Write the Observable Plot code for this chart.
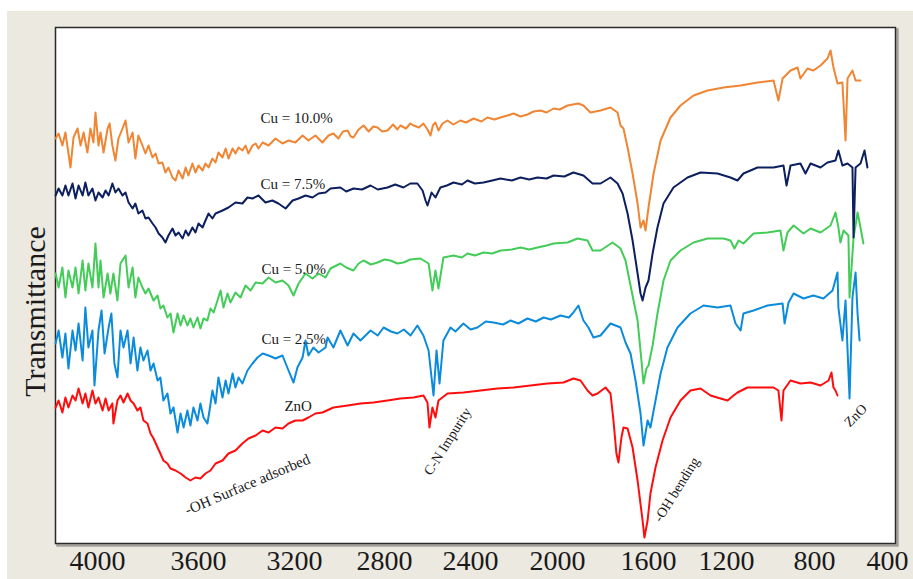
<!DOCTYPE html>
<html><head><meta charset="utf-8">
<script src="https://cdn.jsdelivr.net/npm/d3@7"></script>
<script src="https://cdn.jsdelivr.net/npm/@observablehq/plot@0.6"></script>
<style>
html,body{margin:0;padding:0;background:#fff;}
#wrap{position:relative;width:913px;height:579px;overflow:hidden;background:#fff;}
#bg{position:absolute;left:7px;top:11px;right:0;bottom:0;background:#ECE9E1;}
#chart{position:absolute;left:0;top:0;}
</style></head><body>
<div id="wrap"><div id="bg"></div><div id="chart"></div></div>
<script>
// x: wavenumber (cm-1), y: transmittance (arbitrary units, offset spectra)
const xTicks = [4000, 3600, 3200, 2800, 2400, 2000, 1600, 1200, 800, 400];
const xTickLabels = ["4000", "3600", "3200", "2800", "2400", "2000", "1600", "1200", "800", "400"];
const seriesNames = ["Cu = 10.0%", "Cu = 7.5%", "Cu = 5.0%", "Cu = 2.5%", "ZnO"];

const cu10 = [[4166,405],[4154,410],[4139,398],[4127,411],[4107,376],[4095,406],[4079,415],[4067,398],[4055,411],[4040,391],[4028,415],[4016,401],[4008,431],[3996,398],[3988,411],[3976,391],[3960,415],[3952,420],[3941,398],[3929,383],[3917,405],[3901,415],[3889,423],[3877,401],[3861,411],[3850,385],[3838,408],[3822,398],[3810,390],[3798,398],[3782,386],[3770,390],[3758,380],[3743,381],[3731,371],[3719,376],[3703,366],[3691,363],[3679,373],[3663,365],[3651,376],[3640,368],[3624,380],[3612,371],[3600,378],[3583,373],[3571,380],[3558,376],[3542,385],[3529,381],[3517,391],[3500,386],[3487,395],[3475,385],[3458,395],[3446,390],[3433,396],[3417,393],[3404,398],[3392,390],[3375,398],[3362,400],[3350,395],[3333,401],[3308,398],[3279,405],[3250,400],[3225,403],[3196,401],[3164,408],[3138,403],[3107,408],[3076,401],[3049,408],[3027,410],[3005,405],[2985,412],[2964,413],[2950,407],[2938,406],[2915,414],[2893,418],[2870,412],[2850,417],[2831,416],[2810,412],[2786,413],[2760,419],[2740,414],[2726,418],[2700,415],[2680,420],[2665,418],[2640,416],[2619,420],[2600,414],[2586,408],[2575,418],[2563,421],[2549,413],[2530,420],[2507,423],[2480,419],[2447,423],[2420,421],[2386,425],[2350,422],[2322,426],[2290,424],[2262,426],[2230,428],[2202,430],[2170,427],[2138,429],[2110,432],[2078,433],[2050,431],[2018,435],[1990,434],[1956,438],[1908,440],[1886,438],[1855,431],[1811,433],[1767,436],[1736,431],[1723,418],[1710,415],[1692,396],[1670,370],[1648,340],[1635,316],[1622,323],[1613,313],[1600,336],[1574,370],[1538,403],[1487,426],[1436,438],[1369,448],[1297,453],[1215,456],[1136,458],[1059,461],[986,463],[964,443],[945,465],[909,473],[877,476],[864,465],[832,475],[805,473],[767,478],[729,485],[712,493],[696,476],[674,460],[647,461],[630,403],[619,465],[592,473],[575,463],[548,463]];

const cu75 = [[4166,348],[4154,355],[4139,348],[4127,358],[4115,348],[4099,360],[4087,345],[4075,358],[4059,348],[4048,361],[4036,348],[4020,355],[4008,343],[3996,351],[3980,346],[3968,353],[3956,348],[3941,360],[3929,351],[3917,355],[3901,348],[3889,351],[3877,341],[3861,335],[3850,340],[3838,330],[3822,333],[3810,325],[3798,326],[3782,320],[3770,316],[3758,310],[3743,306],[3731,301],[3719,308],[3703,315],[3691,308],[3679,311],[3663,305],[3651,313],[3640,308],[3624,316],[3612,311],[3600,320],[3583,316],[3571,323],[3558,330],[3542,325],[3529,330],[3500,333],[3475,336],[3446,341],[3417,340],[3396,346],[3375,345],[3350,348],[3321,341],[3292,343],[3267,340],[3237,335],[3208,343],[3182,345],[3151,348],[3120,346],[3093,350],[3062,351],[3040,355],[2996,356],[2970,352],[2938,355],[2900,354],[2862,358],[2830,354],[2786,356],[2750,359],[2712,356],[2680,360],[2647,360],[2623,353],[2609,343],[2600,338],[2581,351],[2563,346],[2540,356],[2510,358],[2479,361],[2440,359],[2414,363],[2380,360],[2340,361],[2300,363],[2262,365],[2210,363],[2170,366],[2130,364],[2092,366],[2050,365],[2018,368],[1970,367],[1930,371],[1886,368],[1846,360],[1811,360],[1767,366],[1736,360],[1714,350],[1692,330],[1670,303],[1648,270],[1635,250],[1626,243],[1613,256],[1600,263],[1579,290],[1554,316],[1523,340],[1472,356],[1400,366],[1333,371],[1246,370],[1182,366],[1150,363],[1123,370],[1059,376],[986,376],[941,378],[927,358],[909,378],[864,380],[841,370],[818,380],[767,376],[729,381],[685,383],[669,393],[647,378],[619,380],[592,376],[586,306],[575,376],[548,380],[526,393],[510,376]];

const cu50 = [[4166,270],[4154,256],[4139,276],[4127,246],[4115,273],[4099,256],[4087,276],[4075,250],[4059,283],[4048,253],[4036,280],[4020,256],[4008,300],[3996,256],[3988,283],[3976,246],[3960,270],[3949,250],[3937,270],[3921,243],[3909,280],[3889,288],[3877,256],[3861,276],[3850,246],[3838,266],[3822,256],[3810,250],[3798,255],[3778,243],[3762,248],[3751,235],[3739,238],[3723,226],[3711,230],[3699,211],[3683,230],[3671,218],[3659,228],[3644,218],[3632,225],[3620,216],[3604,226],[3592,215],[3579,225],[3563,223],[3550,235],[3537,231],[3521,243],[3508,253],[3496,236],[3479,250],[3467,241],[3446,251],[3425,246],[3404,258],[3383,253],[3362,261],[3333,260],[3308,266],[3279,261],[3250,263],[3225,258],[3204,248],[3182,260],[3151,270],[3120,265],[3093,270],[3062,266],[3040,275],[2996,280],[2970,276],[2938,273],[2915,280],[2893,283],[2860,279],[2831,281],[2800,284],[2772,283],[2740,280],[2712,281],[2680,284],[2633,285],[2595,280],[2577,253],[2563,273],[2549,255],[2526,286],[2479,288],[2440,286],[2414,290],[2380,288],[2340,291],[2300,290],[2262,293],[2210,294],[2170,296],[2130,294],[2092,296],[2050,298],[2018,300],[1956,301],[1912,305],[1868,303],[1846,293],[1811,293],[1758,301],[1723,295],[1701,283],[1679,258],[1648,223],[1631,183],[1622,160],[1609,175],[1600,178],[1579,198],[1554,230],[1523,263],[1487,283],[1436,293],[1369,301],[1297,305],[1215,305],[1182,303],[1164,295],[1145,303],[1123,300],[1077,310],[1014,311],[955,313],[941,293],[923,311],[895,318],[850,310],[818,315],[767,311],[712,318],[685,331],[669,316],[658,301],[641,313],[614,308],[608,246],[586,306],[564,331],[548,316],[532,300]];

const cu25 = [[4166,200],[4154,213],[4139,186],[4127,210],[4115,175],[4099,213],[4087,193],[4075,220],[4059,183],[4048,236],[4036,196],[4020,213],[4012,158],[3996,213],[3984,233],[3972,190],[3956,216],[3945,230],[3933,180],[3921,166],[3909,213],[3897,196],[3881,213],[3869,180],[3857,206],[3842,173],[3830,196],[3818,183],[3802,193],[3790,173],[3778,180],[3762,163],[3751,166],[3739,143],[3723,150],[3711,130],[3699,136],[3683,111],[3671,130],[3659,116],[3644,133],[3632,118],[3620,136],[3604,123],[3592,140],[3579,126],[3563,120],[3554,133],[3542,153],[3529,140],[3517,166],[3500,146],[3487,163],[3475,150],[3458,170],[3446,156],[3433,166],[3417,160],[3396,173],[3375,180],[3354,186],[3333,190],[3308,188],[3279,185],[3250,188],[3225,173],[3204,161],[3187,176],[3164,186],[3151,203],[3138,188],[3116,196],[3093,191],[3062,196],[3053,206],[3027,196],[2996,213],[2964,198],[2938,210],[2907,203],[2862,213],[2830,208],[2804,216],[2770,212],[2740,210],[2710,214],[2679,208],[2647,218],[2619,208],[2595,193],[2572,148],[2558,193],[2544,160],[2526,203],[2493,216],[2470,212],[2433,220],[2400,214],[2368,216],[2330,222],[2294,221],[2250,219],[2216,223],[2180,220],[2138,225],[2100,222],[2064,226],[2030,224],[1987,228],[1950,226],[1930,231],[1908,238],[1886,223],[1864,216],[1842,206],[1811,208],[1767,220],[1723,216],[1701,201],[1679,190],[1657,163],[1635,130],[1622,98],[1604,123],[1590,116],[1564,143],[1538,170],[1503,196],[1451,216],[1385,230],[1318,238],[1246,236],[1182,238],[1159,220],[1136,213],[1123,230],[1077,233],[1014,238],[945,240],[936,220],[918,241],[895,250],[850,245],[805,248],[751,245],[701,253],[674,271],[669,236],[647,203],[630,243],[608,145],[592,246],[575,271],[564,230],[553,203]];

const zno = [[4166,136],[4154,143],[4139,131],[4127,146],[4115,136],[4099,148],[4087,143],[4075,155],[4059,140],[4048,150],[4036,136],[4020,153],[4008,140],[3996,146],[3980,133],[3968,145],[3956,133],[3941,140],[3937,120],[3921,143],[3909,148],[3897,141],[3881,150],[3869,143],[3857,140],[3842,133],[3830,136],[3818,123],[3802,120],[3790,110],[3778,105],[3762,96],[3751,90],[3739,83],[3723,80],[3711,75],[3691,73],[3671,70],[3651,66],[3632,63],[3612,66],[3592,65],[3571,70],[3550,73],[3529,80],[3500,83],[3475,90],[3446,93],[3417,100],[3392,105],[3362,108],[3333,113],[3308,111],[3279,116],[3250,115],[3225,120],[3196,123],[3164,123],[3138,126],[3107,130],[3076,131],[3027,136],[2964,138],[2907,140],[2849,141],[2786,143],[2726,145],[2665,146],[2619,148],[2600,141],[2591,116],[2577,136],[2563,126],[2549,143],[2507,150],[2433,151],[2354,153],[2276,155],[2202,156],[2124,158],[2046,160],[1974,161],[1930,165],[1899,163],[1868,153],[1846,148],[1824,150],[1789,156],[1767,150],[1754,123],[1741,90],[1732,81],[1719,106],[1710,116],[1692,115],[1670,96],[1648,63],[1626,23],[1618,6],[1604,23],[1590,50],[1564,76],[1528,103],[1487,126],[1436,143],[1385,153],[1333,155],[1282,148],[1231,145],[1195,143],[1168,148],[1150,151],[1105,156],[1045,156],[986,156],[964,153],[950,123],[941,153],[909,163],[864,160],[818,161],[767,158],[723,163],[707,171],[696,156],[685,153],[674,148]];

// annotation texts with anchor positions in data units
const annoText = ["Cu = 10.0%", "Cu = 7.5%", "Cu = 5.0%", "Cu = 2.5%", "ZnO",
                  "-OH Surface adsorbed", "C-N Impurity", "-OH bending", "ZnO"];
const annoW = [3342, 3342, 3338, 3338, 3242, 3396, 2507, 1456, 575];
const annoV = [425, 359, 274, 204, 137, 59, 102, 54, 128];

const colors = {"Cu = 10.0%": "#F08533", "Cu = 7.5%": "#0C1F5E", "Cu = 5.0%": "#44CC58", "Cu = 2.5%": "#0B8BDC", "ZnO": "#FF0D0D"};
const seriesData = {"Cu = 10.0%": cu10, "Cu = 7.5%": cu75, "Cu = 5.0%": cu50, "Cu = 2.5%": cu25, "ZnO": zno};
const drawOrder = ["ZnO", "Cu = 2.5%", "Cu = 5.0%", "Cu = 7.5%", "Cu = 10.0%"];

const annos = annoText.map((t, i) => ({t, w: annoW[i], v: annoV[i], i}));
const flat = annos.filter(d => d.i < 5);
const rotSpec = {5: {r: -23, fs: 15}, 6: {r: -58, fs: 14}, 7: {r: -58, fs: 14}, 8: {r: -45, fs: 14}};

const serif = "'Liberation Serif', 'Times New Roman', serif";

const chart = Plot.plot({
  width: 913,
  height: 579,
  marginLeft: 55,
  marginRight: 18,
  marginTop: 27,
  marginBottom: 36,
  style: {background: "transparent", overflow: "visible"},
  x: {type: "linear", domain: xTicks, range: [97, 198, 294, 384, 470, 557, 648, 726, 814, 887]},
  y: {domain: [0, 516], axis: null},
  marks: [
    Plot.frame({stroke: "#a3a19c", strokeWidth: 2.5, dx: 2, dy: 2}),
    Plot.frame({fill: "white", stroke: "#2a2a2a", strokeWidth: 1.5}),
    ...drawOrder.map(name => Plot.line(seriesData[name], {
      x: d => d[0], y: d => d[1], stroke: colors[name], strokeWidth: 2, strokeLinejoin: "round"
    })),
    Plot.text(flat, {x: "w", y: "v", text: "t", textAnchor: "start", lineAnchor: "middle",
      fontSize: 15, fontFamily: serif, fill: "#1a1a1a"}),
    ...[5, 6, 7, 8].map(k => Plot.text([annos[k]], {x: "w", y: "v", text: "t", textAnchor: "middle",
      lineAnchor: "middle", rotate: rotSpec[k].r, fontSize: rotSpec[k].fs, fontFamily: serif, fill: "#1a1a1a"})),
    Plot.axisX(xTicks, {tickSize: 0, tickPadding: 7, label: null,
      tickFormat: d => xTickLabels[xTicks.indexOf(d)],
      fontSize: 28, fontFamily: serif, fill: "#1a1a1a"}),
    Plot.text(["Transmittance"], {frameAnchor: "left", dx: -20, dy: 26, rotate: -90,
      fontSize: 30, fontFamily: serif, fill: "#1a1a1a", lineAnchor: "middle", textAnchor: "middle"})
  ]
});
document.getElementById("chart").appendChild(chart);
</script>
</body></html>
